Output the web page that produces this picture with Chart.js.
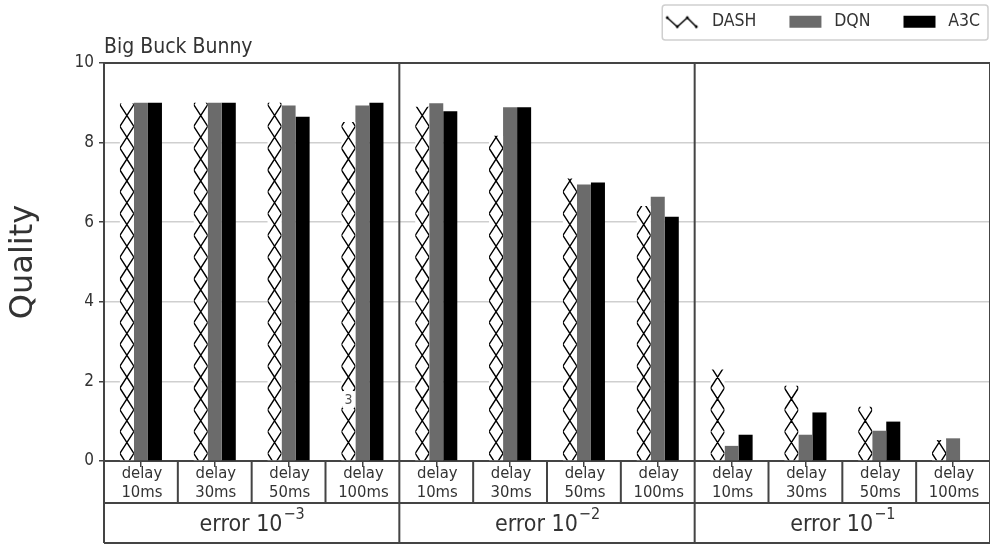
<!DOCTYPE html>
<html>
<head>
<meta charset="utf-8">
<script src="https://cdn.jsdelivr.net/npm/chart.js@4/dist/chart.umd.min.js"></script>
<style>
  html, body { margin: 0; padding: 0; background: #fff; }
  #chart { display: block; }
</style>
</head>
<body>
<canvas id="chart" width="990" height="549"></canvas>
<script>
// values
const delays = ['10ms', '30ms', '50ms', '100ms'];
const errorExps = ['\u22123', '\u22122', '\u22121'];
const categories = [
    '10ms', '30ms', '50ms', '100ms',
    '10ms', '30ms', '50ms', '100ms',
    '10ms', '30ms', '50ms', '100ms'
];
const dashValues = [8.98, 9.0, 9.0, 8.52, 8.9, 8.17, 7.1, 6.41, 2.3, 1.89, 1.36, 0.53];
const dqnValues = [9.0, 9.0, 8.93, 8.93, 8.99, 8.89, 6.95, 6.64, 0.38, 0.66, 0.76, 0.57];
const a3cValues = [9.0, 9.0, 8.65, 9.0, 8.79, 8.89, 7.0, 6.14, 0.66, 1.22, 0.99, 0];
const yTicks = [0, 2, 4, 6, 8, 10];

const COND = "'DejaVu Sans Condensed', 'DejaVu Sans', sans-serif";
const LINE = '#444';
const TEXT = '#333';

function legendSymbol(kind) {
    const c = document.createElement('canvas');
    c.width = 54;
    c.height = 14;
    const g = c.getContext('2d');
    if (kind === 'dash') {
        g.strokeStyle = '#000';
        g.lineWidth = 1.5;
        g.beginPath();
        g.moveTo(18, 3);
        g.lineTo(28, 12);
        g.lineTo(38, 3);
        g.lineTo(47, 12);
        g.stroke();
        g.fillStyle = '#000';
        [[18, 3], [28, 12], [38, 3], [47, 12]].forEach(p => {
            g.beginPath();
            g.arc(p[0], p[1], 1.4, 0, Math.PI * 2);
            g.fill();
        });
    } else {
        g.fillStyle = kind === 'dqn' ? '#6b6b6b' : '#000';
        g.fillRect(18, 1, 32, 12);
    }
    return c;
}

// hatch for the DASH bars, plus the label rows under the plot
const framePlugin = {
    id: 'frame',
    afterDatasetsDraw(chart) {
        const ctx = chart.ctx;
        const area = chart.chartArea;
        const meta = chart.getDatasetMeta(0);
        const period = 21.8;
        const phase = 19.8;
        ctx.save();
        ctx.strokeStyle = '#000';
        ctx.lineWidth = 1.4;
        meta.data.forEach(el => {
            const p = el.getProps(['x', 'y', 'base', 'width'], true);
            const l = p.x - p.width / 2, r = p.x + p.width / 2;
            if (p.base - p.y < 0.5) return;
            ctx.save();
            ctx.beginPath();
            ctx.rect(l, p.y, p.width, p.base - p.y);
            ctx.clip();
            let y0 = area.top + phase - period * Math.ceil(phase / period);
            ctx.beginPath();
            for (; y0 < p.base; y0 += period) {
                ctx.moveTo(l, y0);
                ctx.lineTo(r, y0 + period);
                ctx.moveTo(r, y0);
                ctx.lineTo(l, y0 + period);
            }
            ctx.stroke();
            ctx.restore();
        });
        ctx.restore();

        // stray label seen inside one hatched bar
        const el = meta.data[3];
        ctx.save();
        ctx.fillStyle = '#fff';
        ctx.fillRect(el.x - 6, 391, 12, 17);
        ctx.fillStyle = '#555';
        ctx.font = '14px ' + COND;
        ctx.textAlign = 'center';
        ctx.textBaseline = 'middle';
        ctx.fillText('3', el.x, 400);
        ctx.restore();
    },
    afterDraw(chart) {
        const ctx = chart.ctx;
        const area = chart.chartArea;
        const x = chart.scales.x;
        const row1 = area.bottom + 42;
        const row2 = area.bottom + 82;
        const edge = i => {
            if (i <= 0) return area.left;
            if (i >= categories.length) return area.right;
            return (x.getPixelForValue(i - 1) + x.getPixelForValue(i)) / 2;
        };

        ctx.save();
        ctx.strokeStyle = LINE;
        ctx.lineWidth = 2;
        ctx.beginPath();
        ctx.moveTo(area.left, area.top);
        ctx.lineTo(area.right, area.top);
        ctx.moveTo(area.left, row1);
        ctx.lineTo(area.right, row1);
        ctx.moveTo(area.left, row2);
        ctx.lineTo(area.right, row2);
        for (let i = 0; i <= categories.length; i += 4) {
            const px = edge(i);
            ctx.moveTo(px, area.top);
            ctx.lineTo(px, row2);
        }
        ctx.stroke();
        ctx.beginPath();
        for (let i = 1; i < categories.length; i++) {
            if (i % 4 === 0) continue;
            const px = edge(i);
            ctx.moveTo(px, area.bottom);
            ctx.lineTo(px, row1 - 1);
        }
        ctx.stroke();

        ctx.fillStyle = TEXT;
        ctx.textAlign = 'center';
        ctx.textBaseline = 'middle';
        ctx.font = '16.5px ' + COND;
        categories.forEach((lab, i) => {
            const px = x.getPixelForValue(i);
            ctx.fillText('delay', px + 1, area.bottom + 13);
            ctx.fillText(lab, px + 1, area.bottom + 32);
        });

        errorExps.forEach((exp, g) => {
            const cx = (edge(g * 4) + edge(g * 4 + 4)) / 2;
            ctx.font = '23px ' + COND;
            const base = 'error 10';
            const w1 = ctx.measureText(base).width;
            ctx.font = '16px ' + COND;
            const w2 = ctx.measureText(exp).width;
            const sx = cx - (w1 + w2) / 2;
            ctx.textAlign = 'left';
            ctx.font = '23px ' + COND;
            ctx.fillText(base, sx, area.bottom + 64);
            ctx.font = '16px ' + COND;
            ctx.fillText(exp, sx + w1 + 1, area.bottom + 54);
            ctx.textAlign = 'center';
        });

        // legend frame
        const hb = chart.legend.legendHitBoxes;
        if (hb && hb.length) {
            const last = hb[hb.length - 1];
            const bx = hb[0].left + 13;
            const bw = last.left + last.width + 8 - bx;
            ctx.strokeStyle = '#cfcfcf';
            ctx.lineWidth = 1.5;
            ctx.beginPath();
            ctx.roundRect(bx, 5, bw, 35, 3);
            ctx.stroke();
        }
        ctx.restore();
    }
};

const symbols = [legendSymbol('dash'), legendSymbol('dqn'), legendSymbol('a3c')];

new Chart(document.getElementById('chart'), {
    type: 'bar',
    data: {
        labels: categories,
        datasets: [
            { label: 'DASH', data: dashValues, backgroundColor: '#ffffff' },
            { label: 'DQN', data: dqnValues, backgroundColor: '#6b6b6b' },
            { label: 'A3C', data: a3cValues, backgroundColor: '#000000' }
        ]
    },
    options: {
        responsive: false,
        animation: false,
        layout: { padding: { top: -2, left: 0, right: -5, bottom: 0 } },
        datasets: {
            bar: { barPercentage: 1, categoryPercentage: 0.57, borderWidth: 0 }
        },
        scales: {
            x: {
                offset: true,
                ticks: { display: false },
                grid: { drawOnChartArea: false, offset: false, tickLength: 6, color: LINE, lineWidth: 1.5 },
                border: { display: true, color: LINE, width: 2 },
                afterFit(s) { s.height = 88; }
            },
            y: {
                min: 0,
                max: 10,
                afterBuildTicks(s) { s.ticks = yTicks.map(v => ({ value: v })); },
                ticks: { color: TEXT, font: { size: 17, family: COND }, padding: 5 },
                grid: { color: '#cfcfcf', lineWidth: 1.5, tickColor: LINE, tickLength: 5 },
                border: { color: LINE, width: 2 },
                title: {
                    display: true,
                    text: 'Quality',
                    color: TEXT,
                    font: { size: 32, family: "'DejaVu Sans', sans-serif" },
                    padding: { top: 4, bottom: 4 }
                },
                afterFit(s) { s.width = 104; }
            }
        },
        plugins: {
            legend: {
                position: 'top',
                align: 'end',
                weight: 3000,
                maxHeight: 39,
                labels: {
                    usePointStyle: true,
                    pointStyleWidth: 54,
                    padding: 15,
                    color: TEXT,
                    font: { size: 17.5, family: COND },
                    generateLabels(chart) {
                        return chart.data.datasets.map((ds, i) => ({
                            text: ds.label,
                            fillStyle: ds.backgroundColor,
                            strokeStyle: ds.backgroundColor,
                            lineWidth: 0,
                            pointStyle: symbols[i],
                            datasetIndex: i,
                            hidden: false,
                            fontColor: TEXT
                        }));
                    }
                }
            },
            title: {
                display: true,
                text: 'Big Buck Bunny',
                align: 'start',
                fullSize: false,
                weight: 2000,
                color: TEXT,
                font: { size: 21, family: COND, weight: 'normal', lineHeight: 1 },
                padding: { top: 0, bottom: 5 }
            },
            tooltip: { enabled: false }
        }
    },
    plugins: [framePlugin]
});
</script>
</body>
</html>
